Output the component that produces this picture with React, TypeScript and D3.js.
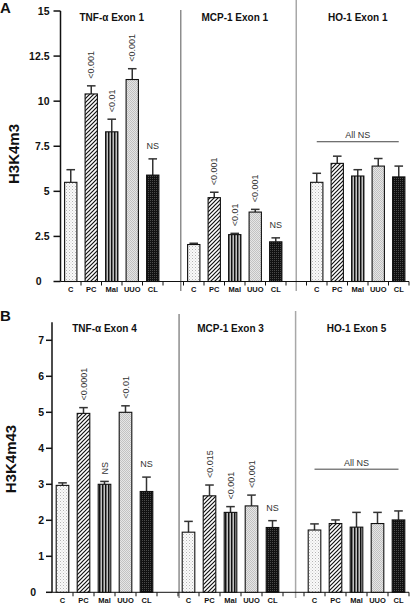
import React from "react";
import * as d3 from "d3";

// ---------- data ----------
const conditions = ["C", "PC", "Mal", "UUO", "CL"];

const titlesA = ["TNF-α Exon 1", "MCP-1 Exon 1", "HO-1 Exon 1"];
const meansA = [
  [5.5, 10.4, 8.3, 11.2, 5.9],
  [2.05, 4.65, 2.6, 3.85, 2.2],
  [5.5, 6.55, 5.85, 6.4, 5.8],
];
const errorsA = [
  [0.7, 0.45, 0.7, 0.6, 0.9],
  [0.07, 0.3, 0.07, 0.15, 0.22],
  [0.5, 0.4, 0.35, 0.42, 0.6],
];
const pvalsA = [
  ["", "<0.001", "<0.01", "<0.001", "NS"],
  ["", "<0.001", "<0.01", "<0.001", "NS"],
  ["", "", "", "", ""],
];
const groupNotesA = ["", "", "All NS"];
const groupNoteLevelA = [0, 0, 7.75];
const yTicksA = [0, 2.5, 5, 7.5, 10, 12.5, 15];

const titlesB = ["TNF-α Exon 4", "MCP-1 Exon 3", "HO-1 Exon 5"];
const meansB = [
  [2.97, 4.97, 3.0, 5.0, 2.8],
  [1.67, 2.68, 2.22, 2.4, 1.8],
  [1.73, 1.91, 1.81, 1.91, 2.01],
];
const errorsB = [
  [0.07, 0.16, 0.08, 0.18, 0.4],
  [0.3, 0.3, 0.16, 0.3, 0.19],
  [0.17, 0.1, 0.41, 0.31, 0.25],
];
const pvalsB = [
  ["", "<0.0001", "NS", "<0.01", "NS"],
  ["", "<0.015", "<0.001", "<0.001", "NS"],
  ["", "", "", "", ""],
];
const groupNotesB = ["", "", "All NS"];
const groupNoteLevelB = [0, 0, 3.42];
const yTicksB = [0, 1, 2, 3, 4, 5, 6, 7];

const patternIds = ["patC", "patPC", "patMal", "patUUO", "patCL"];

const FONT = "'Liberation Sans', Arial, Helvetica, sans-serif";

type PanelProps = {
  letter: string;
  letterY: number;
  yLabel: string;
  yLabelX: number;
  yLabelY: number;
  titles: string[];
  means: number[][];
  errors: number[][];
  pvals: string[][];
  notes: string[];
  noteLevels: number[];
  yTicks: number[];
  yMax: number;
  axisX: number;
  right: number;
  y0: number;
  yTop: number;
  titleY: number;
  xLabelY: number;
  tickLen: number;
  labelGap: number;
  seps: { slot: number; top: number; bottom: number; color: string; width: number }[];
};

function Panel(p: PanelProps) {
  const nSlots = p.titles.length * 6 - 1;
  const x = d3
    .scaleBand<number>()
    .domain(d3.range(nSlots))
    .range([p.axisX, p.right])
    .paddingInner(0.4)
    .paddingOuter(0.2);
  const step = x.step();
  const x0 = p.axisX;
  const y = d3.scaleLinear().domain([0, p.yMax]).range([p.y0, p.yTop]);
  const bw = x.bandwidth();

  const bars: JSX.Element[] = [];
  p.means.forEach((g, gi) => {
    g.forEach((v, i) => {
      const slot = gi * 6 + i;
      const bx = x(slot)!;
      const cx = bx + bw / 2;
      const top = y(v);
      const cap = y(v + p.errors[gi][i]);
      bars.push(
        <g key={`b${gi}-${i}`}>
          <line x1={cx} x2={cx} y1={top} y2={cap} stroke="#333" strokeWidth={1.5} />
          <line x1={cx - 4.3} x2={cx + 4.3} y1={cap} y2={cap} stroke="#333" strokeWidth={1.5} />
          <rect
            x={bx}
            y={top}
            width={bw}
            height={p.y0 - top}
            fill={`url(#${patternIds[i]})`}
            stroke="#111"
            strokeWidth={1.1}
          />
        </g>
      );
      const lab = p.pvals[gi][i];
      if (lab) {
        if (i === 4) {
          bars.push(
            <text
              key={`p${gi}-${i}`}
              x={cx}
              y={cap - 10}
              textAnchor="middle"
              fontSize={9}
              fill="#333"
              fontFamily={FONT}
            >
              {lab}
            </text>
          );
        } else {
          bars.push(
            <text
              key={`p${gi}-${i}`}
              transform={`translate(${cx + 3.2},${cap - 7}) rotate(-90)`}
              textAnchor="start"
              fontSize={9}
              fill="#333"
              fontFamily={FONT}
            >
              {lab}
            </text>
          );
        }
      }
    });
  });

  const notes = p.notes.map((n, gi) => {
    if (!n) return null;
    const xa = x(gi * 6)! + bw / 2;
    const xb = x(gi * 6 + 4)! + bw / 2;
    const ly = y(p.noteLevels[gi]);
    return (
      <g key={`n${gi}`}>
        <line x1={xa} x2={xb} y1={ly} y2={ly} stroke="#444" strokeWidth={1} />
        <text
          x={(xa + xb) / 2}
          y={ly - 3.5}
          textAnchor="middle"
          fontSize={9}
          fill="#333"
          fontFamily={FONT}
        >
          {n}
        </text>
      </g>
    );
  });

  return (
    <g>
      <text x={0} y={p.letterY} fontSize={15} fontWeight="bold" fontFamily={FONT} fill="#111">
        {p.letter}
      </text>
      {p.seps.map((s, k) => (
        <line
          key={`s${k}`}
          x1={x0 + s.slot * step}
          x2={x0 + s.slot * step}
          y1={s.top}
          y2={s.bottom}
          stroke={s.color}
          strokeWidth={s.width}
        />
      ))}
      {/* y axis */}
      <line x1={x0} x2={x0} y1={p.y0} y2={y(p.yMax)} stroke="#111" strokeWidth={1.5} />
      {p.yTicks.map((t) => (
        <g key={`yt${t}`}>
          <line x1={x0 - p.tickLen} x2={x0} y1={y(t)} y2={y(t)} stroke="#111" strokeWidth={1.5} />
          <text
            x={x0 - p.labelGap - (t === 0 ? 8 : 0)}
            y={y(t) + 3.8}
            textAnchor="end"
            fontSize={10.5}
            fontWeight="bold"
            fontFamily={FONT}
            fill="#111"
          >
            {String(t)}
          </text>
        </g>
      ))}
      <text
        transform={`translate(${p.yLabelX},${p.yLabelY}) rotate(-90)`}
        textAnchor="middle"
        fontSize={15}
        fontWeight="bold"
        fontFamily={FONT}
        fill="#111"
      >
        {p.yLabel}
      </text>
      {/* x axis */}
      <line x1={x0} x2={p.right} y1={p.y0} y2={p.y0} stroke="#111" strokeWidth={1} />
      {d3.range(1, nSlots + 1).map((k) => (
        <line
          key={`xt${k}`}
          x1={x0 + k * step}
          x2={x0 + k * step}
          y1={p.y0}
          y2={p.y0 + 4}
          stroke="#111"
          strokeWidth={1}
        />
      ))}
      {p.titles.map((t, gi) =>
        conditions.map((c, i) => (
          <text
            key={`xl${gi}-${i}`}
            x={x(gi * 6 + i)! + bw / 2}
            y={p.xLabelY}
            textAnchor="middle"
            fontSize={7.5}
            fontWeight="bold"
            fontFamily={FONT}
            fill="#111"
          >
            {c}
          </text>
        ))
      )}
      {p.titles.map((t, gi) => (
        <text
          key={`t${gi}`}
          x={(x(gi * 6)! + x(gi * 6 + 4)! + bw) / 2}
          y={p.titleY}
          textAnchor="middle"
          fontSize={10}
          fontWeight="bold"
          fontFamily={FONT}
          fill="#111"
        >
          {t}
        </text>
      ))}
      {bars}
      {notes}
    </g>
  );
}

export default function App() {
  return (
    <svg
      width={410}
      height={604}
      viewBox="0 0 410 604"
      style={{ position: "absolute", left: 0, top: 0, display: "block", background: "#fff" }}
    >
      <defs>
        <pattern id="patC" width={3} height={3} patternUnits="userSpaceOnUse">
          <rect width={3} height={3} fill="#fafafa" />
          <rect x={0} y={0} width={1} height={1} fill="#b5b5b5" />
          <rect x={1.5} y={1.5} width={1} height={1} fill="#cfcfcf" />
        </pattern>
        <pattern id="patPC" width={4} height={4} patternUnits="userSpaceOnUse">
          <rect width={4} height={4} fill="#fff" />
          <path d="M-1,1 l2,-2 M0,4 l4,-4 M3,5 l2,-2" stroke="#111" strokeWidth={1.2} />
        </pattern>
        <pattern id="patMal" width={3} height={3} patternUnits="userSpaceOnUse">
          <rect width={3} height={3} fill="#8a8a8a" />
          <rect x={0} y={0} width={1.2} height={3} fill="#111" />
          <rect x={2} y={0} width={0.8} height={3} fill="#d0d0d0" />
        </pattern>
        <pattern id="patUUO" width={2} height={2} patternUnits="userSpaceOnUse">
          <rect width={2} height={2} fill="#e6e6e6" />
          <rect x={0} y={0} width={1} height={1} fill="#c2c2c2" />
          <rect x={1} y={1} width={1} height={1} fill="#c2c2c2" />
        </pattern>
        <pattern id="patCL" width={2} height={2} patternUnits="userSpaceOnUse">
          <rect width={2} height={2} fill="#111" />
          <rect x={0} y={0} width={1} height={1} fill="#4a4a4a" />
        </pattern>
      </defs>
      <rect width={410} height={604} fill="#fff" />
      <Panel
        letter="A"
        letterY={13}
        yLabel="H3K4m3"
        yLabelX={19}
        yLabelY={154}
        titles={titlesA}
        means={meansA}
        errors={errorsA}
        pvals={pvalsA}
        notes={groupNotesA}
        noteLevels={groupNoteLevelA}
        yTicks={yTicksA}
        yMax={15}
        axisX={60.5}
        right={409}
        y0={281.5}
        yTop={11}
        titleY={20.5}
        xLabelY={292}
        tickLen={7}
        labelGap={11}
        seps={[
          { slot: 5.87, top: 10, bottom: 291, color: "#555", width: 1 },
          { slot: 11.5, top: 0, bottom: 291, color: "#a8a8a8", width: 1.5 },
        ]}
      />
      <Panel
        letter="B"
        letterY={321}
        yLabel="H3K4m43"
        yLabelX={16}
        yLabelY={459}
        titles={titlesB}
        means={meansB}
        errors={errorsB}
        pvals={pvalsB}
        notes={groupNotesB}
        noteLevels={groupNoteLevelB}
        yTicks={yTicksB}
        yMax={7.5}
        axisX={52}
        right={409}
        y0={592.3}
        yTop={322.3}
        titleY={331.5}
        xLabelY={602.5}
        tickLen={6}
        labelGap={8}
        seps={[
          { slot: 6.05, top: 314, bottom: 598, color: "#555", width: 1 },
          { slot: 11.6, top: 311, bottom: 598, color: "#a8a8a8", width: 1.5 },
        ]}
      />
    </svg>
  );
}
